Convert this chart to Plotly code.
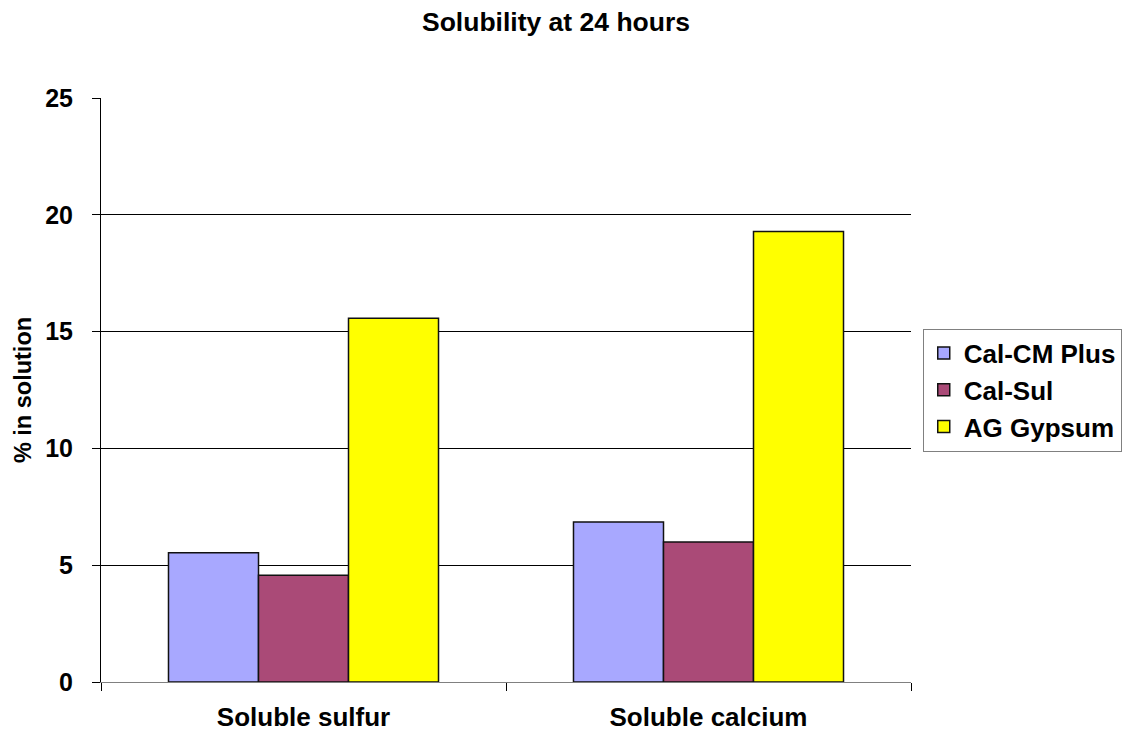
import plotly.graph_objects as go

categories = ["Soluble sulfur", "Soluble calcium"]
series_names = ["Cal-CM Plus", "Cal-Sul", "AG Gypsum"]
cal_cm_plus = [5.53, 6.85]
cal_sul = [4.57, 5.99]
ag_gypsum = [15.57, 19.28]
colors = ["#A8A8FF", "#AA4A77", "#FFFF00"]
y_ticks = [0, 5, 10, 15, 20, 25]

FONT = "Liberation Sans, Arial, sans-serif"

fig = go.Figure()
for name, vals, col in zip(series_names, [cal_cm_plus, cal_sul, ag_gypsum], colors):
    fig.add_trace(go.Bar(
        name=f"<b>{name}</b>", x=categories, y=vals,
        marker=dict(color=col, line=dict(color="#111111", width=1.5)),
    ))

fig.update_layout(
    width=1122, height=738,
    margin=dict(l=101, r=211, t=98, b=56, autoexpand=False),
    paper_bgcolor="white", plot_bgcolor="white",
    barmode="group", bargap=0.3333, bargroupgap=0,
    font=dict(family=FONT, color="black"),
    title=dict(text="<b>Solubility at 24 hours</b>", x=556 / 1122, xref="container",
               xanchor="center",
               y=1 - 22 / 738, yref="container", yanchor="middle",
               font=dict(size=26.5, family=FONT, color="black")),
    legend=dict(x=1.0145, xanchor="left", y=0.5, yanchor="middle",
                bordercolor="#808080", borderwidth=1,
                font=dict(size=26, family=FONT, color="black"),
                tracegroupgap=2, itemwidth=30),
    showlegend=True,
)

fig.update_xaxes(
    type="category", tickson="boundaries", ticks="outside", ticklen=8,
    tickcolor="black", tickwidth=1, automargin=False,
    showline=True, linecolor="#808080", linewidth=1,
    showgrid=False,
    tickfont=dict(size=26, family=FONT, color="black"),
    ticklabelstandoff=12,
    tickprefix="<b>", ticksuffix="</b>",
)

fig.update_yaxes(
    range=[0, 25], tickvals=y_ticks,
    ticktext=[f"<b>{v}</b>" for v in y_ticks],
    ticks="outside", ticklen=8, tickcolor="black", tickwidth=1,
    automargin=False,
    showline=True, linecolor="black", linewidth=1,
    showgrid=True, gridcolor="black", gridwidth=1,
    zeroline=False,
    tickfont=dict(size=25, family=FONT, color="black"),
    ticklabelstandoff=14,
    title=dict(text="<b>% in solution</b>", standoff=6,
               font=dict(size=23.5, family=FONT, color="black")),
)

fig.write_html("out.html")
